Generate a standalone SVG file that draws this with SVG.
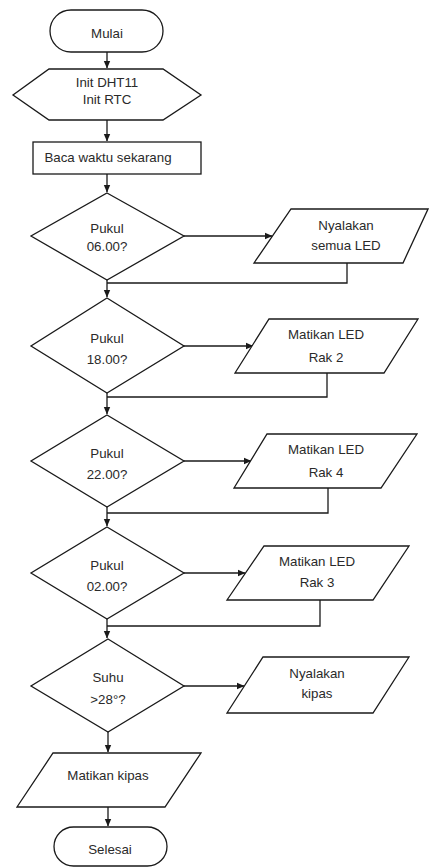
<svg xmlns="http://www.w3.org/2000/svg" width="429" height="868" viewBox="0 0 429 868">
<defs>
<marker id="ah" markerWidth="8" markerHeight="8" refX="7" refY="4" orient="auto" markerUnits="userSpaceOnUse">
<path d="M0,0.8 L7.5,4 L0,7.2 Z" fill="#1a1a1a"/>
</marker>
<style>
.s{fill:#fff;stroke:#1a1a1a;stroke-width:1.3}
.t{font-family:"Liberation Sans",Arial,sans-serif;font-size:13.3px;fill:#2a2a2a;text-anchor:middle}
.c{fill:none;stroke:#1a1a1a;stroke-width:1.3}
</style>
</defs>
<rect width="429" height="868" fill="#fff"/>
<g id="connectors">
<path class="c" d="M107,52 V68" marker-end="url(#ah)"/>
<path class="c" d="M107,120 V141" marker-end="url(#ah)"/>
<path class="c" d="M107,174 V192" marker-end="url(#ah)"/>
<path class="c" d="M184,236 H272" marker-end="url(#ah)"/>
<path class="c" d="M347,263 V283 H107"/>
<path class="c" d="M107,280 V297" marker-end="url(#ah)"/>
<path class="c" d="M184,346 H253" marker-end="url(#ah)"/>
<path class="c" d="M327,373 V397 H107"/>
<path class="c" d="M107,393 V414" marker-end="url(#ah)"/>
<path class="c" d="M184,461 H251" marker-end="url(#ah)"/>
<path class="c" d="M328,488 V513 H107"/>
<path class="c" d="M107,507 V526" marker-end="url(#ah)"/>
<path class="c" d="M184,573 H245" marker-end="url(#ah)"/>
<path class="c" d="M320,600 V626 H107"/>
<path class="c" d="M107,619 V638" marker-end="url(#ah)"/>
<path class="c" d="M184,686 H244" marker-end="url(#ah)"/>
<path class="c" d="M108,732 V752" marker-end="url(#ah)"/>
<path class="c" d="M108,807 V826" marker-end="url(#ah)"/>
</g>
<g id="mulai">
<rect class="s" x="50" y="10" width="113" height="42" rx="21"/>
<text class="t" x="107" y="38">Mulai</text>
</g>
<g id="init">
<polygon class="s" points="49,69 163,69 201,95 163,120 49,120 13,95"/>
<text class="t" x="107" y="87">Init DHT11</text>
<text class="t" x="107" y="104">Init RTC</text>
</g>
<g id="baca">
<rect class="s" x="33" y="142" width="168" height="32"/>
<text class="t" x="108" y="162">Baca waktu sekarang</text>
</g>
<g id="d1">
<polygon class="s" points="107,193 184,236 107,280 31,236"/>
<text class="t" x="107" y="233">Pukul</text>
<text class="t" x="107" y="251">06.00?</text>
</g>
<g id="p1">
<polygon class="s" points="291,209 428,209 403,263 254,263"/>
<text class="t" x="346" y="230">Nyalakan</text>
<text class="t" x="346" y="250">semua LED</text>
</g>
<g id="d2">
<polygon class="s" points="107,298 184,346 107,393 31,346"/>
<text class="t" x="107" y="343">Pukul</text>
<text class="t" x="107" y="364">18.00?</text>
</g>
<g id="p2">
<polygon class="s" points="269,319 418,319 384,373 235,373"/>
<text class="t" x="326" y="339">Matikan LED</text>
<text class="t" x="326" y="362">Rak 2</text>
</g>
<g id="d3">
<polygon class="s" points="107,415 184,461 107,507 31,461"/>
<text class="t" x="107" y="458">Pukul</text>
<text class="t" x="107" y="479">22.00?</text>
</g>
<g id="p3">
<polygon class="s" points="267,434 417,434 381,488 234,488"/>
<text class="t" x="326" y="454">Matikan LED</text>
<text class="t" x="326" y="477">Rak 4</text>
</g>
<g id="d4">
<polygon class="s" points="107,527 184,573 107,619 31,573"/>
<text class="t" x="107" y="570">Pukul</text>
<text class="t" x="107" y="591">02.00?</text>
</g>
<g id="p4">
<polygon class="s" points="264,546 409,546 373,600 227,600"/>
<text class="t" x="317" y="566">Matikan LED</text>
<text class="t" x="317" y="587">Rak 3</text>
</g>
<g id="d5">
<polygon class="s" points="108,639 184,686 108,732 31,686"/>
<text class="t" x="108" y="682">Suhu</text>
<text class="t" x="108" y="704">&gt;28°?</text>
</g>
<g id="p5">
<polygon class="s" points="263,657 409,657 373,713 227,713"/>
<text class="t" x="317" y="678">Nyalakan</text>
<text class="t" x="317" y="698">kipas</text>
</g>
<g id="matikan-kipas">
<polygon class="s" points="53,753 201,753 165,807 17,807"/>
<text class="t" x="108" y="780">Matikan kipas</text>
</g>
<g id="selesai">
<rect class="s" x="54" y="827" width="113" height="39" rx="19.5"/>
<text class="t" x="110" y="854">Selesai</text>
</g>
</svg>
